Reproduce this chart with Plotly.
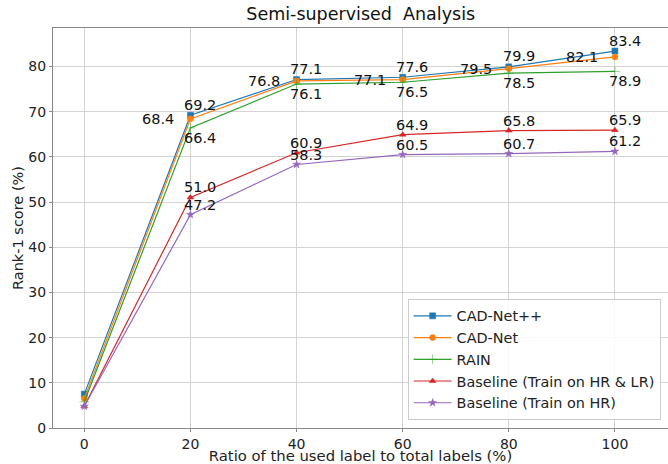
import plotly.graph_objects as go

ratios = [0, 20, 40, 60, 80, 100]
cadnet_pp = [7.5, 69.2, 77.1, 77.6, 79.9, 83.4]
cadnet = [6.5, 68.4, 76.8, 77.1, 79.5, 82.1]
rain = [5.8, 66.4, 76.1, 76.5, 78.5, 78.9]
base_hr_lr = [4.8, 51.0, 60.9, 64.9, 65.8, 65.9]
base_hr = [4.8, 47.2, 58.3, 60.5, 60.7, 61.2]

series_names = ["CAD-Net++", "CAD-Net", "RAIN", "Baseline (Train on HR & LR)", "Baseline (Train on HR)"]
series_values = [cadnet_pp, cadnet, rain, base_hr_lr, base_hr]
colors = ["#1f77b4", "#ff7f0e", "#2ca02c", "#d62728", "#9467bd"]
symbols = ["square", "circle", "cross-thin", "triangle-up", "star"]
marker_sizes = [6, 6, 7, 6, 6]
# label placement: (x offset in data units, y shift in px)
label_pos = [(-1, 10.5), (-9, 0), (-1, -10), (-1, 10), (-1, 10)]

font_family = "DejaVu Sans"

fig = go.Figure()
for name, vals, col, sym, ms in zip(series_names, series_values, colors, symbols, marker_sizes):
    fig.add_trace(go.Scatter(
        x=ratios, y=vals, name=name, mode="lines+markers",
        line=dict(color=col, width=1.2),
        marker=dict(symbol=sym, size=ms, color=col, line=dict(color=col, width=0.5)),
    ))

annotations = []
for vals, (dx, dy) in zip(series_values, label_pos):
    for x, v in zip(ratios[1:], vals[1:]):
        annotations.append(dict(
            x=x + dx, y=v, xref="x", yref="y", text=f"{v:.1f}",
            showarrow=False, xanchor="left", yanchor="middle", yshift=dy, xshift=-3,
            font=dict(family=font_family, size=14.5, color="#111111"),
        ))

fig.update_layout(
    width=668, height=464,
    margin=dict(l=53, r=0, t=28, b=36),
    paper_bgcolor="white", plot_bgcolor="white",
    font=dict(family=font_family, size=14, color="#222222"),
    title=dict(text="Semi-supervised  Analysis", x=0.54, xanchor="center",
               xref="container", yref="container",
               y=0.97, yanchor="middle", font=dict(family=font_family, size=17.5, color="#111111")),
    annotations=annotations,
    showlegend=True,
    legend=dict(x=0.988, y=0.02, xanchor="right", yanchor="bottom",
                bgcolor="rgba(255,255,255,0.85)", bordercolor="#cccccc", borderwidth=1,
                font=dict(family=font_family, size=14.4, color="#222222"),
                itemwidth=38, tracegroupgap=0),
)
fig.update_xaxes(
    range=[-5.9, 110], tickvals=[0, 20, 40, 60, 80, 100], automargin=False,
    showgrid=True, gridcolor="#d3d3d3", gridwidth=1, zeroline=False,
    showline=True, mirror=True, linecolor="#888888", linewidth=1,
    ticks="outside", ticklen=3, tickcolor="#888888",
    tickfont=dict(family=font_family, size=14, color="#222222"),
    title=dict(text="Ratio of the used label to total labels (%)", standoff=3,
               font=dict(family=font_family, size=14.8, color="#222222")),
)
fig.update_yaxes(
    range=[0, 88.5], tickvals=[0, 10, 20, 30, 40, 50, 60, 70, 80], automargin=False,
    showgrid=True, gridcolor="#d3d3d3", gridwidth=1, zeroline=False,
    showline=True, mirror=True, linecolor="#888888", linewidth=1,
    ticks="outside", ticklen=3, tickcolor="#888888",
    tickfont=dict(family=font_family, size=14, color="#222222"),
    title=dict(text="Rank-1 score (%)", standoff=1,
               font=dict(family=font_family, size=14.5, color="#222222")),
)

fig.write_html("out.html", config={"displayModeBar": False},
               post_script="document.body.style.margin='0';document.body.style.overflow='hidden';")
